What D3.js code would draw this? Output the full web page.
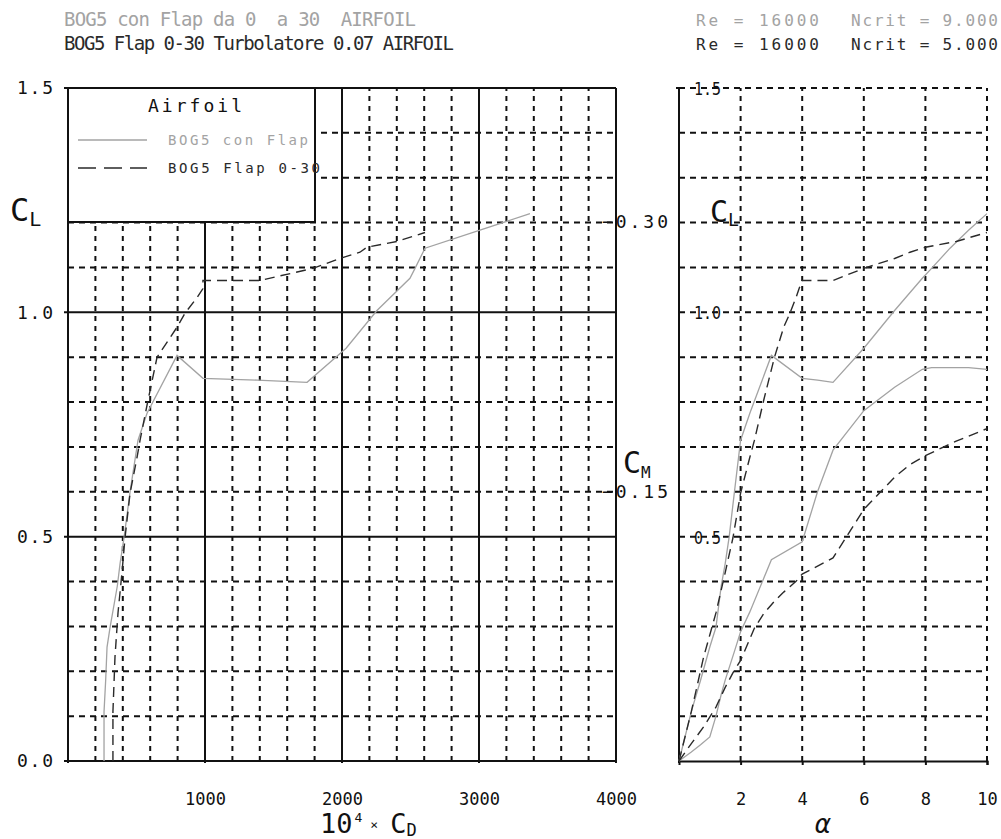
<!DOCTYPE html>
<html lang="en">
<head>
<meta charset="utf-8">
<script src="https://d3js.org/d3.v7.min.js"></script>
<style>
  body { margin: 0; background: #fff; }
  svg { display: block; }
  text { font-family: "DejaVu Sans Mono", monospace; white-space: pre; }
</style>
</head>
<body>
<script>
// polar 1: BOG5 con Flap (Ncrit 9), grey solid
var alpha1 = [0, 0.4, 0.7, 1.0, 1.2, 1.37, 1.5, 1.63, 1.8, 2.0, 2.3, 3.0, 4.0, 4.5, 5.0, 6.0, 7.0, 7.9, 8.2, 8.8, 9.4, 10];
var cl1 = [0, 0.11, 0.18, 0.254, 0.298, 0.39, 0.44, 0.5, 0.6, 0.715, 0.775, 0.904, 0.853, 0.849, 0.844, 0.92, 1.004, 1.076, 1.098, 1.143, 1.183, 1.22];
var cd1 = [263, 263, 275, 285, 307, 360, 380, 410, 453, 511, 577, 796, 985, 1380, 1745, 2030, 2255, 2496, 2533, 2606, 3007, 3372];
var cm1 = [0, -0.005, -0.009, -0.0134, -0.025, -0.037, -0.045, -0.052, -0.061, -0.072, -0.083, -0.112, -0.122, -0.150, -0.173, -0.195, -0.208, -0.218, -0.219, -0.219, -0.219, -0.218];

// polar 2: BOG5 Flap 0-30 (Ncrit 5), dark dashed
var alpha2 = [0, 0.4, 0.8, 1.2, 1.5, 1.75, 2.0, 2.3, 2.45, 2.75, 3.1, 3.4, 3.6, 3.8, 3.9, 4.0, 5.0, 6.0, 7.0, 7.5, 8.0, 9.0, 10];
var cl2 = [0, 0.11, 0.232, 0.33, 0.42, 0.497, 0.597, 0.677, 0.715, 0.804, 0.90, 0.967, 0.998, 1.033, 1.053, 1.071, 1.071, 1.098, 1.12, 1.134, 1.145, 1.158, 1.178];
var cd2 = [328, 328, 343, 365, 394, 416, 453, 504, 526, 584, 650, 796, 854, 942, 985, 985, 1401, 1788, 1985, 2131, 2182, 2401, 2606];
var cm2 = [0, -0.0097, -0.019, -0.03, -0.041, -0.049, -0.056, -0.068, -0.074, -0.082, -0.089, -0.094, -0.097, -0.1, -0.102, -0.104, -0.113, -0.14, -0.158, -0.165, -0.170, -0.178, -0.185];

var cdTicks = [1000, 2000, 3000, 4000];
var clTicks = [0.0, 0.5, 1.0, 1.5];
var alphaTicks = [2, 4, 6, 8, 10];
var cmTicks = [-0.30, -0.15];
var names = ["BOG5 con Flap", "BOG5 Flap 0-30"];

var grey = "#a3a3a3", dark = "#2a2a2a", ink = "#111";

var width = 1001, height = 839;
var svg = d3.select("body").append("svg")
  .attr("width", width)
  .attr("height", height);

var xCD = d3.scaleLinear().domain([0, 4000]).range([68, 616]);
var yCL = d3.scaleLinear().domain([0, 1.5]).range([761, 88]);
var xA = d3.scaleLinear().domain([0, 10]).range([679, 987]);
var yCM = d3.scaleLinear().domain([0, -0.30]).range([761, 222]);

// titles
var titles = [
  {t: "BOG5 con Flap da 0  a 30  AIRFOIL", y: 26, c: grey, w: 352},
  {t: "BOG5 Flap 0-30 Turbolatore 0.07 AIRFOIL", y: 50, c: dark, w: 390}
];
titles.forEach(function(d) {
  svg.append("text").attr("x", 64).attr("y", d.y).attr("fill", d.c)
    .attr("font-size", 19).attr("textLength", d.w).attr("lengthAdjust", "spacing").text(d.t);
});
[[grey, "9.000", 26], [dark, "5.000", 50]].forEach(function(d) {
  svg.append("text").attr("x", 696).attr("y", d[2]).attr("fill", d[0])
    .attr("font-size", 16).attr("textLength", 123).attr("lengthAdjust", "spacing").text("Re = 16000");
  svg.append("text").attr("x", 851).attr("y", d[2]).attr("fill", d[0])
    .attr("font-size", 16).attr("textLength", 147).attr("lengthAdjust", "spacing").text("Ncrit = " + d[1]);
});

// ---------- left panel grid ----------
var gL = svg.append("g");
var cdMinor = d3.range(200, 4000, 200).filter(function(v) { return v % 1000 !== 0; });
var clMinor = d3.range(1, 15).map(function(i) { return i / 10; }).filter(function(v) { return Math.abs(v - 0.5) > 1e-6 && Math.abs(v - 1.0) > 1e-6; });

gL.selectAll(".vm").data(cdMinor).enter().append("line")
  .attr("x1", function(d) { return xCD(d); }).attr("x2", function(d) { return xCD(d); })
  .attr("y1", yCL(0)).attr("y2", yCL(1.5))
  .attr("stroke", ink).attr("stroke-width", 2).attr("stroke-dasharray", "5,5");
gL.selectAll(".hm").data(clMinor).enter().append("line")
  .attr("x1", xCD(0)).attr("x2", xCD(4000))
  .attr("y1", function(d) { return yCL(d); }).attr("y2", function(d) { return yCL(d); })
  .attr("stroke", ink).attr("stroke-width", 2).attr("stroke-dasharray", "6,5");
gL.selectAll(".vM").data([0, 1000, 2000, 3000, 4000]).enter().append("line")
  .attr("x1", function(d) { return xCD(d); }).attr("x2", function(d) { return xCD(d); })
  .attr("y1", yCL(0) + 2).attr("y2", yCL(1.5))
  .attr("stroke", ink).attr("stroke-width", 2);
gL.selectAll(".hM").data(clTicks).enter().append("line")
  .attr("x1", xCD(0) - 4).attr("x2", xCD(4000))
  .attr("y1", function(d) { return yCL(d); }).attr("y2", function(d) { return yCL(d); })
  .attr("stroke", ink).attr("stroke-width", 2);

// axes labels (left)
var axL = svg.append("g").attr("transform", "translate(0," + yCL(0) + ")")
  .call(d3.axisBottom(xCD).tickValues(cdTicks).tickSize(0).tickPadding(32).tickFormat(d3.format("d")));
var ayL = svg.append("g").attr("transform", "translate(" + xCD(0) + ",0)")
  .call(d3.axisLeft(yCL).tickValues(clTicks).tickSize(0).tickPadding(15).tickFormat(d3.format(".1f")));
[axL, ayL].forEach(function(a) {
  a.select(".domain").remove();
  a.selectAll("text").attr("font-size", 17).attr("fill", ink).attr("font-family", "DejaVu Sans Mono");
});
ayL.selectAll("text").attr("font-size", 18).attr("textLength", 36).attr("lengthAdjust", "spacing");

// ---------- right panel grid ----------
var gR = svg.append("g");
// CL labels inside the plot (drawn under the grid)
gR.selectAll(".rl").data([0.5, 1.0, 1.5]).enter().append("text")
  .attr("x", 694).attr("y", function(d) { return yCL(d) + 7; })
  .attr("font-size", 18).attr("fill", ink).attr("textLength", 27).attr("lengthAdjust", "spacingAndGlyphs")
  .text(function(d) { return d.toFixed(1); });
var clAll = d3.range(1, 16).map(function(i) { return i / 10; });
gR.selectAll(".rh").data(clAll).enter().append("line")
  .attr("x1", xA(0)).attr("x2", xA(10))
  .attr("y1", function(d) { return yCL(d); }).attr("y2", function(d) { return yCL(d); })
  .attr("stroke", ink).attr("stroke-width", 2).attr("stroke-dasharray", "6,5");
gR.selectAll(".rv").data(alphaTicks).enter().append("line")
  .attr("x1", function(d) { return xA(d); }).attr("x2", function(d) { return xA(d); })
  .attr("y1", yCL(0)).attr("y2", yCL(1.5))
  .attr("stroke", ink).attr("stroke-width", 2).attr("stroke-dasharray", "5,5");
gR.append("line").attr("x1", xA(0)).attr("x2", xA(0)).attr("y1", yCL(0) + 2).attr("y2", yCL(1.5))
  .attr("stroke", ink).attr("stroke-width", 2);
gR.append("line").attr("x1", xA(0) - 3).attr("x2", xA(0) + 3).attr("y1", yCL(1.5)).attr("y2", yCL(1.5))
  .attr("stroke", ink).attr("stroke-width", 2);

var axR = svg.append("g").attr("transform", "translate(0," + yCL(0) + ")")
  .call(d3.axisBottom(xA).tickValues(alphaTicks).tickSize(4).tickPadding(28));
axR.select(".domain").attr("stroke", ink).attr("stroke-width", 2);
axR.selectAll("line").attr("stroke", ink).attr("stroke-width", 2);
axR.selectAll("text").attr("font-size", 17).attr("fill", ink).attr("font-family", "DejaVu Sans Mono");

// CM axis
var ayM = svg.append("g").attr("transform", "translate(" + 617 + ",0)")
  .call(d3.axisLeft(yCM).tickValues(cmTicks).tickSize(0).tickFormat(d3.format(".2f")));
ayM.select(".domain").remove();
ayM.selectAll("text").attr("text-anchor", "start").attr("x", -15)
  .attr("font-size", 18).attr("fill", ink).attr("font-family", "DejaVu Sans Mono")
  .attr("textLength", 66).attr("lengthAdjust", "spacing");

// ---------- curves ----------
function pts(a, b) { return a.map(function(v, i) { return [v, b[i]]; }); }
var lineCD = d3.line().x(function(d) { return xCD(d[0]); }).y(function(d) { return yCL(d[1]); });
var lineAL = d3.line().x(function(d) { return xA(d[0]); }).y(function(d) { return yCL(d[1]); });
var lineAM = d3.line().x(function(d) { return xA(d[0]); }).y(function(d) { return yCM(d[1]); });

var series = [
  {cl: cl1, cd: cd1, a: alpha1, cm: cm1, c: grey, dash: null, w: 1.3},
  {cl: cl2, cd: cd2, a: alpha2, cm: cm2, c: dark, dash: "10,6", w: 1.4}
];
var gC = svg.append("g").attr("fill", "none");
series.forEach(function(s) {
  [[lineCD, pts(s.cd, s.cl)], [lineAL, pts(s.a, s.cl)], [lineAM, pts(s.a, s.cm)]].forEach(function(p) {
    gC.append("path").attr("d", p[0](p[1]))
      .attr("stroke", s.c).attr("stroke-width", s.w)
      .attr("stroke-dasharray", s.dash);
  });
});

// ---------- legend ----------
var lg = svg.append("g");
lg.append("rect").attr("x", 68).attr("y", 88).attr("width", 247).attr("height", 134)
  .attr("fill", "#fff").attr("stroke", ink).attr("stroke-width", 2);
lg.append("text").attr("x", 148).attr("y", 112)
  .attr("font-size", 18).attr("fill", ink).attr("textLength", 94).attr("lengthAdjust", "spacing").text("Airfoil");
series.forEach(function(s, i) {
  var y = 140 + i * 28;
  lg.append("line").attr("x1", 78).attr("x2", 147).attr("y1", y).attr("y2", y)
    .attr("stroke", s.c).attr("stroke-width", 1.5).attr("stroke-dasharray", s.dash ? "18,8" : null);
  lg.append("text").attr("x", 168).attr("y", y + 5).attr("font-size", 14)
    .attr("fill", s.c).attr("textLength", i ? 152 : 140).attr("lengthAdjust", "spacing").text(names[i]);
});

// ---------- axis titles ----------
function sub(x, y, main, s, size, subSize, dy) {
  var t = svg.append("text").attr("x", x).attr("y", y).attr("fill", ink).attr("font-size", size)
    .attr("font-family", "DejaVu Sans");
  t.append("tspan").text(main);
  t.append("tspan").attr("font-size", subSize).attr("dy", dy).text(s);
}
sub(10, 221, "C", "L", 32, 20, 5);
sub(710, 222, "C", "L", 30, 18, 4);
sub(623, 473, "C", "M", 30, 16, 5);

var xl = svg.append("text").attr("x", 320).attr("y", 833).attr("fill", ink)
  .attr("font-family", "DejaVu Sans").attr("font-size", 27);
xl.append("tspan").text("10");
xl.append("tspan").attr("font-size", 13).attr("dy", -11).attr("dx", 2).text("4");
xl.append("tspan").attr("font-size", 13).attr("dy", 7).attr("dx", 8).text("×");
xl.append("tspan").attr("dy", 4).attr("dx", 12).text("C");
xl.append("tspan").attr("font-size", 17).attr("dy", 3).text("D");

svg.append("text").attr("x", 815).attr("y", 833).attr("fill", ink)
  .attr("font-family", "DejaVu Serif").attr("font-style", "italic").attr("font-size", 26).text("α");
</script>
</body>
</html>
